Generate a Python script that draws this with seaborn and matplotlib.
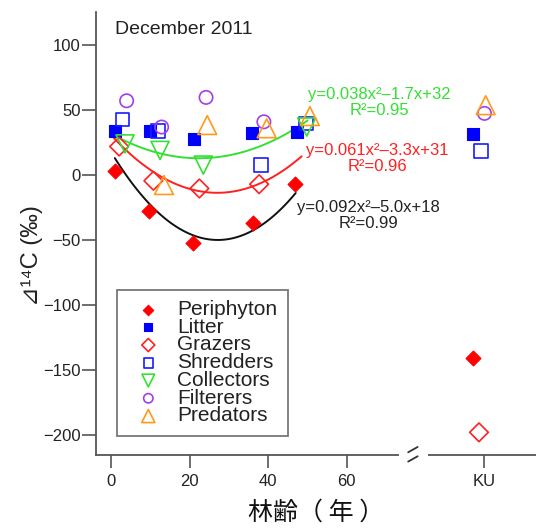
import numpy as np
import pandas as pd
import seaborn as sns
import matplotlib.pyplot as plt

# stand age (yr) and D14C (permil) for each group
groups = ["Periphyton", "Litter", "Grazers", "Shredders", "Collectors", "Filterers", "Predators"]
periphyton_age = [1.0, 9.8, 21.0, 36.1, 46.8]
periphyton_d14c = [3, -27.5, -52, -37.2, -7]
litter_age = [1.0, 9.9, 21.2, 36.0, 47.2]
litter_d14c = [34, 34, 27.7, 32.5, 33.3]
grazers_age = [2.1, 10.8, 22.5, 37.7]
grazers_d14c = [22, -4.4, -10.3, -7]
shredders_age = [3.0, 12.0, 38.1, 49.6]
shredders_d14c = [42.8, 34, 7.7, 39.7]
collectors_age = [3.6, 12.5, 23.5, 49.8]
collectors_d14c = [24, 19, 7.7, 37]
filterers_age = [4.0, 12.9, 24.2, 38.9]
filterers_d14c = [57.2, 37, 59.8, 41]
predators_age = [13.5, 24.5, 39.6, 50.6]
predators_d14c = [-7.7, 38.5, 36, 45.4]

# KU reference site (None = not sampled)
ku_d14c = [-140.5, 31.5, -198, 18.7, None, 47.5, 53.8]

# quadratic fits printed on the chart
fit_coefs = {"Periphyton": [0.092, -5.0, 18], "Grazers": [0.061, -3.3, 31], "Collectors": [0.038, -1.7, 32]}
fit_span = {"Periphyton": (1, 47), "Grazers": (0.5, 48.5), "Collectors": (1.3, 50)}
fit_text = {"Periphyton": "y=0.092x\u00b2\u20135.0x+18\nR\u00b2=0.99",
            "Grazers": "y=0.061x\u00b2\u20133.3x+31\nR\u00b2=0.96",
            "Collectors": "y=0.038x\u00b2\u20131.7x+32\nR\u00b2=0.95"}

ages = [periphyton_age, litter_age, grazers_age, shredders_age, collectors_age, filterers_age, predators_age]
vals = [periphyton_d14c, litter_d14c, grazers_d14c, shredders_d14c, collectors_d14c, filterers_d14c, predators_d14c]

KU_X = 94
ku_shift = [-2.0, -1.8, -0.4, 0.1, 0, 1.0, 1.3]
colors = ["#ff0000", "#0000ff", "#ff2020", "#1a1aff", "#33e033", "#a040e8", "#ff9a1a"]
markers = ["D", "s", "D", "s", "v", "o", "^"]
filled = [True, True, False, False, False, False, False]
sizes = [7.6, 8, 9.5, 9.8, 13, 9.6, 13.5]

rows = []
for g, a, v, k, sh in zip(groups, ages, vals, ku_d14c, ku_shift):
    for xi, yi in zip(a, v):
        rows.append((g, xi, yi))
    if k is not None:
        rows.append((g, KU_X + sh, k))
df = pd.DataFrame(rows, columns=["group", "age", "d14c"])

sns.set_theme(style="ticks")
plt.rcParams["font.family"] = ["Liberation Sans", "DejaVu Sans", "Noto Sans CJK JP"]
plt.rcParams["axes.unicode_minus"] = True

fig = plt.figure(figsize=(5.36, 5.29), dpi=100)
ax = fig.add_axes([0.179, 0.14, 0.821, 0.837])

line_col = {"Periphyton": "#111111", "Grazers": "#ff2020", "Collectors": "#33e033"}
for g in fit_coefs:
    x0, x1 = fit_span[g]
    xs = np.linspace(x0, x1, 100)
    sns.lineplot(x=xs, y=np.polyval(fit_coefs[g], xs), color=line_col[g], lw=1.4, ax=ax, legend=False)

for g, c, m, f, s in zip(groups, colors, markers, filled, sizes):
    sub = df[df.group == g]
    sns.scatterplot(data=sub, x="age", y="d14c", marker=m, s=s ** 2,
                    facecolor=c if f else "none", edgecolor=c,
                    linewidth=0.8 if f else 1.2, ax=ax, label=g, zorder=3)

ax.text(0.645, 0.796, fit_text["Collectors"], transform=ax.transAxes, ha="center", va="center",
        color="#33e033", fontsize=12, linespacing=1.1)
ax.text(0.639, 0.669, fit_text["Grazers"], transform=ax.transAxes, ha="center", va="center",
        color="#ff2020", fontsize=12, linespacing=1.1)
ax.text(0.62, 0.540, fit_text["Periphyton"], transform=ax.transAxes, ha="center", va="center",
        color="#222222", fontsize=12, linespacing=1.1)
ax.text(0.043, 0.96, "December 2011", transform=ax.transAxes, ha="left", va="center",
        fontsize=14, color="#222222")

ax.set_xlim(-3.8, 108.1)
ax.set_ylim(-215.4, 125.4)
ax.set_xticks([0, 20, 40, 60, KU_X + 1])
ax.set_xticklabels(["0", "20", "40", "60", "KU"])
ax.set_yticks([100, 50, 0, -50, -100, -150, -200])
ax.tick_params(axis="y", length=10, width=1.2, color="#555555", labelsize=12, pad=1, labelcolor="#222222")
ax.tick_params(axis="x", length=9, width=1.2, color="#555555", labelsize=12, pad=5, labelcolor="#222222")
for sp in ["left", "bottom"]:
    ax.spines[sp].set_color("#555555")
    ax.spines[sp].set_linewidth(1.3)
sns.despine(ax=ax)

# axis break on the x axis
ax.plot([73.3, 80.7], [0, 0], transform=ax.get_xaxis_transform(), color="white", lw=4,
        clip_on=False, zorder=5, solid_capstyle="butt")
for dy in (0.012, -0.009):
    ax.plot([75.6, 78.0], [dy - 0.006, dy + 0.006], transform=ax.get_xaxis_transform(),
            color="#333333", lw=1.3, clip_on=False, zorder=6)

ax.set_ylabel("\u22bf\u00b9\u2074C (\u2030)", fontsize=17, color="#222222")
ax.yaxis.set_label_coords(-0.12, 0.45)
ax.set_xlabel("林齢（ 年 ）", fontsize=18, family=["Noto Sans CJK JP"], color="#111111", labelpad=7)

leg = ax.legend(loc="lower left", bbox_to_anchor=(0.048, 0.043), borderaxespad=0, fontsize=15,
                labelspacing=-0.06, handlelength=2.0, handletextpad=0.4, borderpad=0.5,
                markerscale=0.7, frameon=True, fancybox=False)
leg.get_frame().set_edgecolor("#555555")
leg.get_frame().set_linewidth(1.3)
for t in leg.get_texts():
    t.set_color("#222222")

fig.savefig("out.png", dpi=100)
